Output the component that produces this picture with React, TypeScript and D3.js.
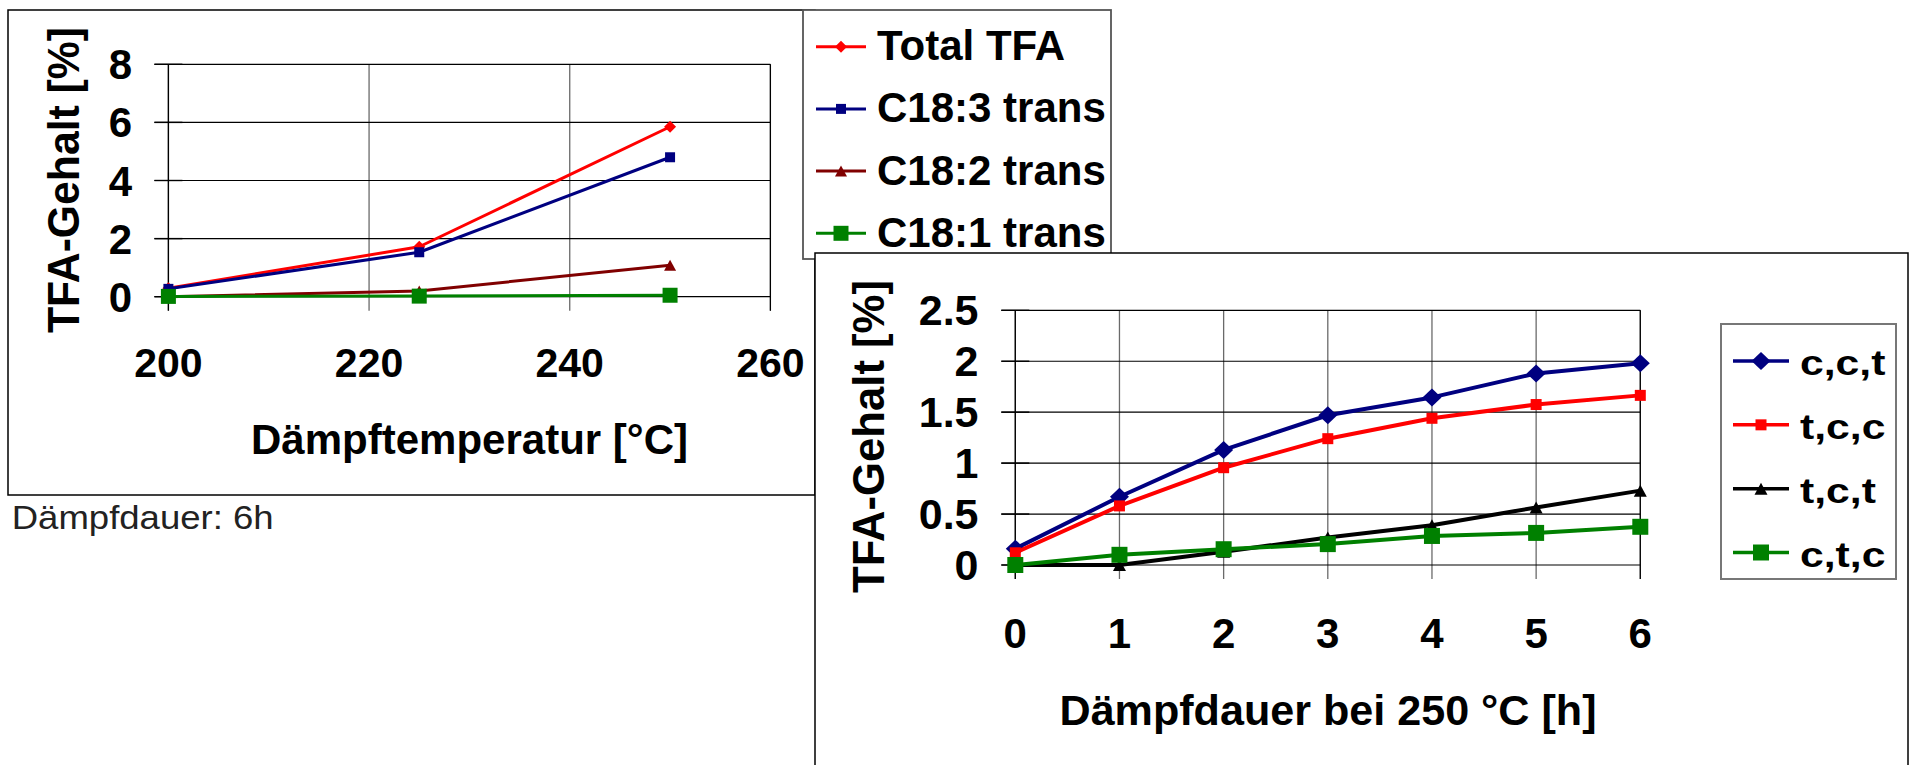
import React from 'react';
import * as d3 from 'd3';

// ---------- Chart 1 data: Dämpftemperatur ----------
const tempCategories = [200, 225, 250];
const totalTFA = [0.29, 1.72, 5.85];
const c183trans = [0.27, 1.53, 4.8];
const c182trans = [0.0, 0.2, 1.08];
const c181trans = [0.01, 0.02, 0.05];
const tempTicksX = [200, 220, 240, 260];
const tempTicksY = [0, 2, 4, 6, 8];
const chart1Names = ['Total TFA', 'C18:3 trans', 'C18:2 trans', 'C18:1 trans'];

// ---------- Chart 2 data: Dämpfdauer ----------
const hours = [0, 1, 2, 3, 4, 5, 6];
const cct = [0.16, 0.67, 1.13, 1.47, 1.645, 1.88, 1.98];
const tcc = [0.12, 0.58, 0.955, 1.24, 1.44, 1.575, 1.665];
const tct = [0.0, 0.0, 0.13, 0.27, 0.39, 0.565, 0.73];
const ctc = [0.0, 0.1, 0.155, 0.205, 0.285, 0.315, 0.375];
const hourTicksX = [0, 1, 2, 3, 4, 5, 6];
const hourTicksY = [0, 0.5, 1, 1.5, 2, 2.5];
const chart2Names = ['c,c,t', 't,c,c', 't,c,t', 'c,t,c'];

const FONT = "'Liberation Sans', Arial, sans-serif";

type Mk = { type: string; w: number; h: number };
function markerPath(m: Mk) {
  const { type, w, h } = m;
  if (type === 'diamond') return `M0,${-h / 2}L${w / 2},0L0,${h / 2}L${-w / 2},0Z`;
  if (type === 'triangle') return `M0,${-h / 2}L${w / 2},${h / 2}L${-w / 2},${h / 2}Z`;
  return `M${-w / 2},${-h / 2}h${w}v${h}h${-w}Z`;
}

const style1 = [
  { color: '#FF0000', mk: { type: 'diamond', w: 12, h: 12 } },
  { color: '#000080', mk: { type: 'square', w: 10, h: 10 } },
  { color: '#800000', mk: { type: 'triangle', w: 12, h: 11 } },
  { color: '#008000', mk: { type: 'square', w: 15, h: 15 } },
];
const style2 = [
  { color: '#000080', mk: { type: 'diamond', w: 19, h: 18 } },
  { color: '#FF0000', mk: { type: 'square', w: 11, h: 11 } },
  { color: '#000000', mk: { type: 'triangle', w: 13, h: 12 } },
  { color: '#008000', mk: { type: 'square', w: 16, h: 16 } },
];

function Grid({ x, y, xt, yt, tick }: any) {
  const [x0, x1] = x.range();
  const [y0, y1] = y.range();
  return (
    <g>
      {xt.map((t: number) => (
        <line key={'vx' + t} x1={x(t)} x2={x(t)} y1={y1} y2={y0 + tick} stroke="#6a6a6a" strokeWidth={1.3} />
      ))}
      {yt.map((t: number) => (
        <line key={'hy' + t} x1={x0 - tick} x2={x1} y1={y(t)} y2={y(t)} stroke="#000" strokeWidth={1.2} />
      ))}
      {yt.map((t: number) => (
        <line key={'ty' + t} x1={x0 - tick} x2={x0 + tick} y1={y(t)} y2={y(t)} stroke="#000" strokeWidth={1.4} />
      ))}
      <line x1={x0} x2={x0} y1={y1} y2={y0 + tick} stroke="#000" strokeWidth={1.3} />
      <line x1={x1} x2={x1} y1={y1} y2={y0 + tick} stroke="#000" strokeWidth={1.2} />
    </g>
  );
}

function Series({ x, y, xs, vals, st, lw }: any) {
  const line = d3.line<number>().x((_, i) => x(xs[i])).y((d) => y(d));
  return (
    <g>
      <path d={line(vals) || ''} fill="none" stroke={st.color} strokeWidth={lw} strokeLinejoin="round" />
      {vals.map((v: number, i: number) => (
        <path key={i} d={markerPath(st.mk)} transform={`translate(${x(xs[i])},${y(v)})`} fill={st.color} />
      ))}
    </g>
  );
}

export default function App() {
  // chart 1 scales
  const x1 = d3.scaleLinear().domain([200, 260]).range([168.4, 770.4]);
  const y1 = d3.scaleLinear().domain([0, 8]).range([296.7, 64.3]);
  const series1 = [totalTFA, c183trans, c182trans, c181trans];

  // chart 2 scales
  const x2 = d3.scaleLinear().domain([0, 6]).range([1015.3, 1640.3]);
  const y2 = d3.scaleLinear().domain([0, 2.5]).range([565, 310.3]);
  const series2 = [cct, tcc, tct, ctc];
  const fmt2 = (v: number) => String(v);

  const leg1Y = d3.scaleLinear().domain([0, 3]).range([46.7, 233.3]);
  const leg2Y = d3.scaleLinear().domain([0, 3]).range([361, 552.5]);

  return (
    <svg width={1911} height={765} style={{ position: 'absolute', left: 0, top: 0, display: 'block' }} fontFamily={FONT}>
      <rect x={0} y={0} width={1911} height={765} fill="#fff" />
      {/* Chart 1 frame */}
      <rect x={8} y={10} width={807} height={485} fill="#fff" stroke="#000" strokeWidth={1.5} />
      <Grid x={x1} y={y1} xt={tempTicksX} yt={tempTicksY} tick={14} />
      {series1.map((vals, i) => (
        <Series key={i} x={x1} y={y1} xs={tempCategories} vals={vals} st={style1[i]} lw={3} />
      ))}
      {tempTicksY.map((t) => (
        <text key={'l1y' + t} x={132} y={y1(t) + 15} textAnchor="end" fontSize={42} fontWeight="bold">{t}</text>
      ))}
      {tempTicksX.map((t) => (
        <text key={'l1x' + t} x={x1(t)} y={377} textAnchor="middle" fontSize={41} fontWeight="bold">{t}</text>
      ))}
      <text x={469.5} y={454} textAnchor="middle" fontSize={42} fontWeight="bold" textLength={437} lengthAdjust="spacingAndGlyphs">Dämpftemperatur [°C]</text>
      <text transform="translate(78.5,180) rotate(-90)" textAnchor="middle" fontSize={45} fontWeight="bold" textLength={306} lengthAdjust="spacingAndGlyphs">TFA-Gehalt [%]</text>
      <text x={11.7} y={529.3} fontSize={34} fill="#222" textLength={262} lengthAdjust="spacingAndGlyphs">Dämpfdauer: 6h</text>

      {/* Chart 1 legend */}
      <rect x={803} y={10} width={308} height={249} fill="#fff" stroke="#555" strokeWidth={1.8} />
      {chart1Names.map((n, i) => (
        <g key={n}>
          <line x1={816} x2={866} y1={leg1Y(i)} y2={leg1Y(i)} stroke={style1[i].color} strokeWidth={3} />
          <path d={markerPath(style1[i].mk)} transform={`translate(841,${leg1Y(i)})`} fill={style1[i].color} />
          <text x={877} y={leg1Y(i) + 13.5} fontSize={42} fontWeight="bold">{n}</text>
        </g>
      ))}

      {/* Chart 2 frame */}
      <rect x={815} y={253} width={1093} height={600} fill="#fff" stroke="#000" strokeWidth={1.5} />
      <Grid x={x2} y={y2} xt={hourTicksX} yt={hourTicksY} tick={14} />
      {series2.map((vals, i) => (
        <Series key={i} x={x2} y={y2} xs={hours} vals={vals} st={style2[i]} lw={4} />
      ))}
      {hourTicksY.map((t) => (
        <text key={'l2y' + t} x={978.5} y={y2(t) + 15} textAnchor="end" fontSize={43} fontWeight="bold">{fmt2(t)}</text>
      ))}
      {hourTicksX.map((t) => (
        <text key={'l2x' + t} x={x2(t)} y={648} textAnchor="middle" fontSize={42} fontWeight="bold">{t}</text>
      ))}
      <text x={1328} y={725} textAnchor="middle" fontSize={42} fontWeight="bold" textLength={537} lengthAdjust="spacingAndGlyphs">Dämpfdauer bei 250 °C [h]</text>
      <text transform="translate(884,436.5) rotate(-90)" textAnchor="middle" fontSize={44} fontWeight="bold" textLength={313} lengthAdjust="spacingAndGlyphs">TFA-Gehalt [%]</text>

      {/* Chart 2 legend */}
      <rect x={1721} y={324} width={175} height={255} fill="#fff" stroke="#777" strokeWidth={2} />
      {chart2Names.map((n, i) => (
        <g key={n}>
          <line x1={1733} x2={1789} y1={leg2Y(i)} y2={leg2Y(i)} stroke={style2[i].color} strokeWidth={3.5} />
          <path d={markerPath(style2[i].mk)} transform={`translate(1761,${leg2Y(i)})`} fill={style2[i].color} />
          <text transform={`translate(1800,${leg2Y(i) + 14}) scale(1.22,1)`} fontSize={35} fontWeight="bold">{n}</text>
        </g>
      ))}
    </svg>
  );
}
